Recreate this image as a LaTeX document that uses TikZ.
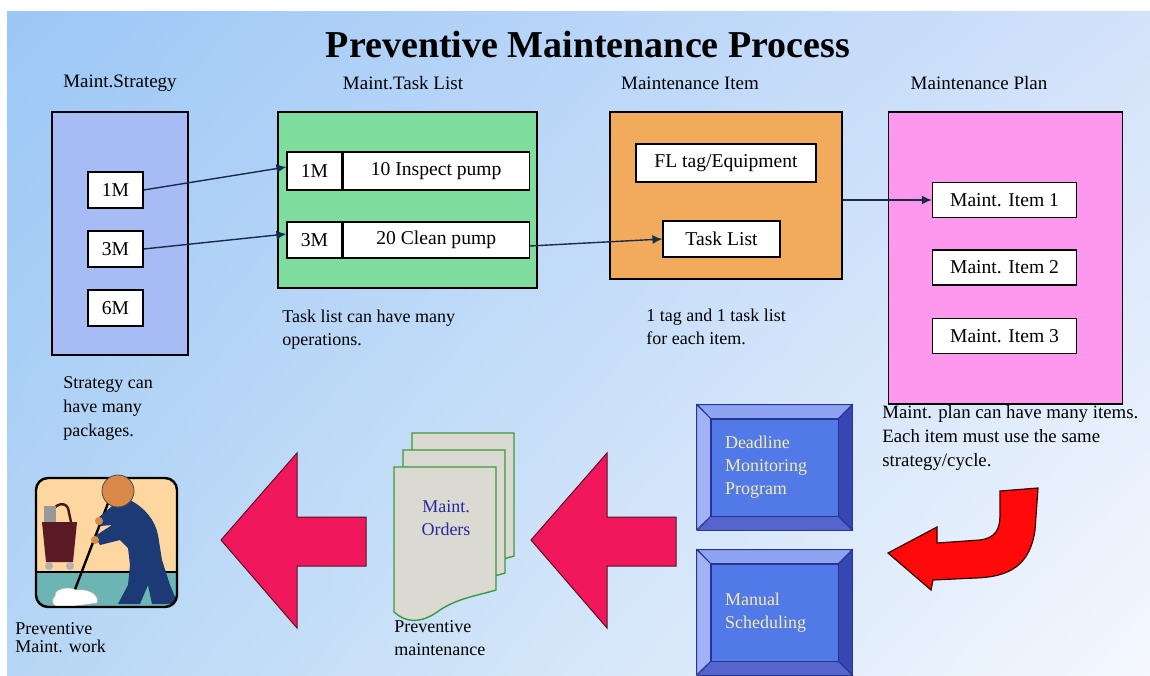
\documentclass[tikz,border=0pt]{standalone}
\usepackage{fontspec}
\setmainfont{Liberation Serif}
\usetikzlibrary{positioning,shadings,arrows.meta}

\definecolor{bgA}{HTML}{9CC7F6}
\definecolor{bgB}{HTML}{D3E2FA}
\definecolor{bgC}{HTML}{B6D6F5}
\definecolor{bgD}{HTML}{F5F8FE}
\definecolor{stratblue}{HTML}{A7BCF5}
\definecolor{taskgreen}{HTML}{7EDC9E}
\definecolor{itemorange}{HTML}{F2AA5C}
\definecolor{planpink}{HTML}{FD98EE}
\definecolor{linknavy}{HTML}{1B2A4A}
\definecolor{crimson}{HTML}{F0175C}
\definecolor{crimsonedge}{HTML}{5A1020}
\definecolor{curlred}{HTML}{FF0A0A}
\definecolor{faceblue}{HTML}{5279E8}
\definecolor{bevtop}{HTML}{8EA4F2}
\definecolor{bevleft}{HTML}{A2B2F6}
\definecolor{bevright}{HTML}{3646B2}
\definecolor{bevbottom}{HTML}{5664CE}
\definecolor{bevedge}{HTML}{28348E}
\definecolor{facetext}{HTML}{F3EBA8}
\definecolor{pagegray}{HTML}{DADAD2}
\definecolor{pagegreen}{HTML}{3C9A3C}
\definecolor{orderblue}{HTML}{2828A0}
\definecolor{peach}{HTML}{FDD6A0}
\definecolor{floorteal}{HTML}{6DB4B4}
\definecolor{skin}{HTML}{D98A4A}
\definecolor{suit}{HTML}{1C3B76}
\definecolor{cart}{HTML}{5A1A24}

\newcommand\titlefont{\fontsize{19}{22}\bfseries\selectfont}
\newcommand\headfont{\fontsize{9.5}{11}\selectfont}
\newcommand\boxfont{\fontsize{9.8}{11}\selectfont}
\newcommand\notefont{\fontsize{9}{11.5}\selectfont}

\begin{document}
\begin{tikzpicture}[x=0.5pt,y=-0.5pt,
  panel/.style={draw=black, line width=0.6pt, inner sep=0pt},
  cell/.style={draw=black, fill=white, line width=0.6pt, inner sep=0pt, font=\boxfont},
  link/.style={-{Latex[length=5pt,width=4.5pt]}, draw=linknavy, line width=0.7pt},
  note/.style={anchor=north west, align=left, inner sep=0pt, font=\notefont},
  heading/.style={font=\headfont},
  bigarrow/.style={fill=crimson, draw=crimsonedge, line width=0.5pt},
  face/.style={fill=faceblue, draw=bevedge, line width=0.4pt, inner xsep=7pt,
    text width=49.5pt, align=left, text=facetext, font=\notefont,
    minimum width=63.5pt, minimum height=48.5pt},
  page/.style={fill=pagegray, draw=pagegreen, line width=0.7pt}]

  \useasboundingbox (0,0) rectangle (1150,675);
  % Backdrop
  \shade[upper left=bgA, upper right=bgB, lower left=bgC, lower right=bgD]
    (7,11) rectangle (1150,675);

  % Title and column headings
  \node[font=\titlefont] (title) at (588,44) {Preventive Maintenance Process};
  \node[heading] (hstrat) at (120,83) {Maint.Strategy};
  \node[heading] (htask) at (403,83) {Maint.Task List};
  \node[heading] (hitem) at (690,83) {Maintenance Item};
  \node[heading] (hplan) at (979,83) {Maintenance Plan};

  % Strategy packages
  \node[panel, fill=stratblue, minimum width=68pt, minimum height=121.5pt] (strat) at (120,233.5) {};
  \foreach \n/\y in {1/190, 3/249, 6/308} {
    \node[cell, minimum width=27.5pt, minimum height=18pt] (m\n) at (115.5,\y) {\n M};
  }

  % Task list operations
  \node[panel, fill=taskgreen, minimum width=129.5pt, minimum height=88pt] (tasks) at (407.5,200) {};
  \node[cell, minimum width=27.5pt, minimum height=19pt] (c1) at (314.5,171) {1M};
  \node[cell, minimum width=93pt, minimum height=19pt, right=0pt of c1] (d1) {10 Inspect pump};
  \node[cell, minimum width=27.5pt, minimum height=18pt] (c2) at (314.5,240) {3M};
  \node[cell, minimum width=93pt, minimum height=18pt, right=0pt of c2] (d2) {20 Clean pump};

  % Maintenance item
  \node[panel, fill=itemorange, minimum width=116pt, minimum height=83.5pt] (item) at (726,195.5) {};
  \node[cell, minimum width=90pt, minimum height=19pt] (fl) at (726,163) {FL tag/Equipment};
  \node[cell, minimum width=58.5pt, minimum height=18pt] (tl) at (721.5,239) {Task List};

  % Maintenance plan
  \node[panel, fill=planpink, minimum width=117pt, minimum height=146pt] (plan) at (1005.5,258) {};
  \foreach \i/\y in {1/200, 2/267.5, 3/336} {
    \node[cell, minimum width=72pt, minimum height=17.5pt] (pi\i) at (1004.5,\y) {Maint. Item \i};
  }

  % Links
  \draw[link] (m1.east) -- ([yshift=2pt]c1.west);
  \draw[link] (m3.east) -- ([yshift=3pt]c2.west);
  \draw[link] ([yshift=-3pt]d2.east) -- (tl.west);
  \draw[link] (item.east |- pi1) -- (pi1.west);

  % Notes
  \node[note, font=\fontsize{9}{12}\selectfont] (nstrat) at (63,376) {Strategy can\\have many\\packages.};
  \node[note] (ntask) at (282,310) {Task list can have many\\operations.};
  \node[note] (nitem) at (646,309) {1 tag and 1 task list\\for each item.};
  \node[note, font=\fontsize{9.4}{12}\selectfont] (nplan) at (882,405) {Maint. plan can have many items.\\Each item must use the same\\strategy/cycle.};

  % Scheduling buttons
  \node[face] (deadline) at (774.5,467.5) {Deadline\\Monitoring\\Program};
  \node[face] (manual) at (774.5,612.5) {Manual\\Scheduling};
  \foreach \b in {deadline, manual} {
    \filldraw[fill=bevtop, draw=bevedge, line width=0.4pt] (\b.north west) -- (\b.north east) -- ++(14,-14) -- ++(-155,0) -- cycle;
    \filldraw[fill=bevleft, draw=bevedge, line width=0.4pt] (\b.north west) -- ++(-14,-14) -- ++(0,125) -- (\b.south west) -- cycle;
    \filldraw[fill=bevright, draw=bevedge, line width=0.4pt] (\b.north east) -- ++(14,-14) -- ++(0,125) -- (\b.south east) -- cycle;
    \filldraw[fill=bevbottom, draw=bevedge, line width=0.4pt] (\b.south west) -- (\b.south east) -- ++(14,14) -- ++(-155,0) -- cycle;
  }

  % Curled arrow from the plan
  \filldraw[fill=curlred, draw=black!80!red, line width=0.6pt]
    (1000,491) -- (1038,488) -- (1035,530)
    .. controls (1030,565) and (1010,577) .. (975,578) -- (933,580) -- (931,590)
    -- (888,553) -- (937,527) -- (937,543) -- (980,540)
    .. controls (995,538) and (1000,530) .. (1000,515) -- cycle;

  % Big arrows
  \foreach \dx in {0,310} {
    \draw[bigarrow, shift={(\dx,0)}] (221,540) -- (297,453) -- (297,517) -- (366,517)
      -- (366,566) -- (297,566) -- (297,628) -- cycle;
  }

  % Order sheets
  \foreach \dx/\dy in {18/-34, 9/-17} {
    \draw[page, shift={(\dx,\dy)}] (394,467) -- (496,467) -- (496,590)
      .. controls (480,595) and (458,598) .. (440,610)
      .. controls (420,625) and (405,622) .. (394,612) -- cycle;
  }
  \draw[page] (394,467) -- (496,467) -- (496,590)
    .. controls (480,595) and (458,598) .. (440,610)
    .. controls (420,625) and (405,622) .. (394,612) -- cycle;
  \node[align=center, text=orderblue, font=\notefont] (orders) at (446,518) {Maint.\\Orders};
  \node[note] (norders) at (394,620) {Preventive\\maintenance};

  % Maintenance work picture
  \begin{scope}
    \clip[rounded corners=6pt] (36,478) rectangle (177,607);
    \fill[peach] (36,478) rectangle (177,572);
    \fill[floorteal] (36,572) rectangle (177,607);
    \draw[line width=0.6pt] (36,572) -- (177,572);
    % cart
    \draw[cart!80!black, line width=1.2pt] (48,524) .. controls (50,504) and (64,500) .. (68,508) -- (71,522);
    \fill[gray!80] (44,506) rectangle (56,522);
    \fill[cart] (42,522) -- (77,522) -- (73,562) -- (46,562) -- cycle;
    \fill[gray!60] (49,566) circle (4) (70,566) circle (4);
    % mop
    \draw[line width=1.2pt] (110,498) -- (74,592);
    \filldraw[fill=white, draw=gray!60, line width=0.3pt] (55,596) .. controls (54,588) and (70,586) .. (76,590)
      .. controls (90,588) and (100,596) .. (97,603) -- (62,608)
      .. controls (52,607) and (50,600) .. (55,596) -- cycle;
    % worker
    \fill[suit] (112,506) -- (130,500) .. controls (145,508) and (155,520) .. (158,535)
      -- (162,560) -- (170,585) -- (178,604) -- (152,604) -- (148,585) -- (140,604)
      -- (118,604) -- (128,585) -- (130,565) -- (128,548) -- (120,540) -- (100,545)
      -- (95,536) -- (112,525) -- (100,526) -- (98,518) -- cycle;
    \fill[skin] (99,521) circle (4) (95,540) circle (4);
  \end{scope}
  \draw[line width=1.2pt, rounded corners=6pt] (36,478) rectangle (177,607);
  \filldraw[fill=skin, draw=black!70, line width=0.4pt] (118,491) circle (16);
  \node[note, font=\fontsize{9}{9}\selectfont] (nwork) at (15,622) {Preventive\\Maint. work};
\end{tikzpicture}
\end{document}
